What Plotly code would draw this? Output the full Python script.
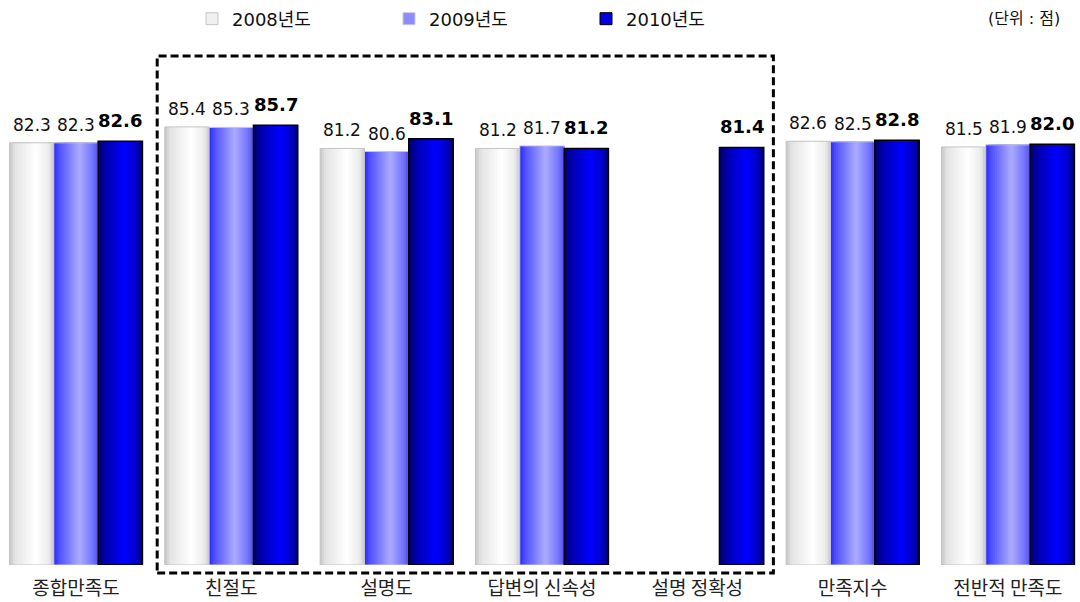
import plotly.graph_objects as go

# Survey satisfaction scores by item and year
categories = ["종합만족도", "친절도", "설명도", "답변의 신속성", "설명 정확성", "만족지수", "전반적 만족도"]
years = ["2008년도", "2009년도", "2010년도"]
score_2008 = [82.3, 85.4, 81.2, 81.2, None, 82.6, 81.5]
score_2009 = [82.3, 85.3, 80.6, 81.7, None, 82.5, 81.9]
score_2010 = [82.6, 85.7, 83.1, 81.2, 81.4, 82.8, 82.0]
unit_label = "(단위 : 점)"

series = [score_2008, score_2009, score_2010]

# Horizontal colour stops used to give each bar a rounded, shaded look
gradients = [
    [(0.0, (196, 196, 196)), (0.12, (228, 228, 228)), (0.6, (255, 255, 255)), (0.88, (236, 236, 236)), (1.0, (206, 206, 206))],
    [(0.0, (40, 40, 255)), (0.12, (80, 80, 255)), (0.58, (172, 172, 255)), (0.85, (120, 120, 255)), (1.0, (84, 84, 240))],
    [(0.0, (0, 0, 110)), (0.2, (0, 0, 180)), (0.6, (0, 0, 255)), (0.85, (0, 0, 200)), (1.0, (0, 0, 120))],
]
outline = [("#c4c4c4", 1), ("#c8c8d8", 1), ("#000000", 1.5)]
legend_fill = ["#f0f0f0", "#8c8cff", "#0000e0"]
FONT = "DejaVu Sans, Noto Sans CJK KR"
label_font = [
    dict(family=FONT, size=17, color="#111111"),
    dict(family=FONT, size=17, color="#111111"),
    dict(family=FONT, size=18, color="#000000", weight="bold"),
]

GROUP = 0.856
BAR = GROUP / 3
SLICES = 24

W, H = 1080, 602
T, B = 52, 37
plot_h = H - T - B


def shade(stops, t):
    for (p0, c0), (p1, c1) in zip(stops, stops[1:]):
        if p0 <= t <= p1:
            f = (t - p0) / (p1 - p0) if p1 > p0 else 0
            r, g, b = (round(a + (bb - a) * f) for a, bb in zip(c0, c1))
            return f"rgb({r},{g},{b})"
    r, g, b = stops[-1][1]
    return f"rgb({r},{g},{b})"


def py(pixel_y):
    # pixel row -> paper coordinate
    return (H - B - pixel_y) / plot_h


xs = list(range(len(categories)))
fig = go.Figure()
annotations = []

for s, values in enumerate(series):
    left = -GROUP / 2 + s * BAR
    # shaded body: each slice runs from its start to the bar's right edge
    for k in range(SLICES):
        start = k * BAR / SLICES
        fig.add_trace(go.Bar(
            x=xs, y=values, offset=left + start, width=BAR - start,
            marker=dict(color=shade(gradients[s], (k + 0.5) / SLICES), line=dict(width=0)),
            showlegend=False, hoverinfo="skip",
        ))
    # outline on top
    fig.add_trace(go.Bar(
        x=xs, y=values, offset=left, width=BAR, name=years[s],
        marker=dict(color="rgba(0,0,0,0)", line=dict(color=outline[s][0], width=outline[s][1])),
        showlegend=False,
    ))
    for i, v in zip(xs, values):
        if v is None:
            continue
        annotations.append(dict(
            x=i + left + BAR / 2, y=v, xref="x", yref="y",
            text=f"{v:.1f}", showarrow=False, yanchor="bottom", yshift=6 if s < 2 else 8,
            font=label_font[s],
        ))

# legend entries
for s in range(3):
    fig.add_trace(go.Bar(
        x=[None], y=[None], name=years[s],
        marker=dict(color=legend_fill[s], line=dict(color=outline[s][0], width=1)),
        showlegend=True,
    ))

annotations.append(dict(
    x=1062 / W, y=py(19), xref="paper", yref="paper", text=unit_label, showarrow=False,
    xanchor="right", yanchor="middle",
    font=dict(family=FONT, size=16, color="#111111"),
))

fig.update_layout(
    width=W, height=H,
    margin=dict(l=0, r=0, t=T, b=B, pad=0, autoexpand=False),
    barmode="overlay",
    plot_bgcolor="white", paper_bgcolor="white",
    showlegend=True,
    legend=dict(
        orientation="h", x=192 / W, y=py(19), xanchor="left", yanchor="middle",
        entrywidth=152, entrywidthmode="pixels", itemwidth=30, traceorder="normal",
        font=dict(family=FONT, size=18, color="#111111"),
        bgcolor="rgba(0,0,0,0)",
    ),
    annotations=annotations,
    shapes=[dict(
        type="rect", xref="x", yref="paper",
        x0=0.523, x1=4.49, y0=py(573), y1=py(56),
        line=dict(color="black", width=3, dash="8px,4px"), fillcolor="rgba(0,0,0,0)",
        layer="above",
    )],
    xaxis=dict(
        range=[-0.489, 6.464], tickmode="array", tickvals=xs, ticktext=categories,
        showline=False, showgrid=False, zeroline=False,
        ticks="outside", ticklen=6, tickcolor="rgba(0,0,0,0)", automargin=False,
        tickfont=dict(family="Noto Sans CJK KR", size=19, color="#222222"),
    ),
    yaxis=dict(range=[0, 100], visible=False, showgrid=False, zeroline=False, automargin=False),
)

fig.write_html("out.html")
